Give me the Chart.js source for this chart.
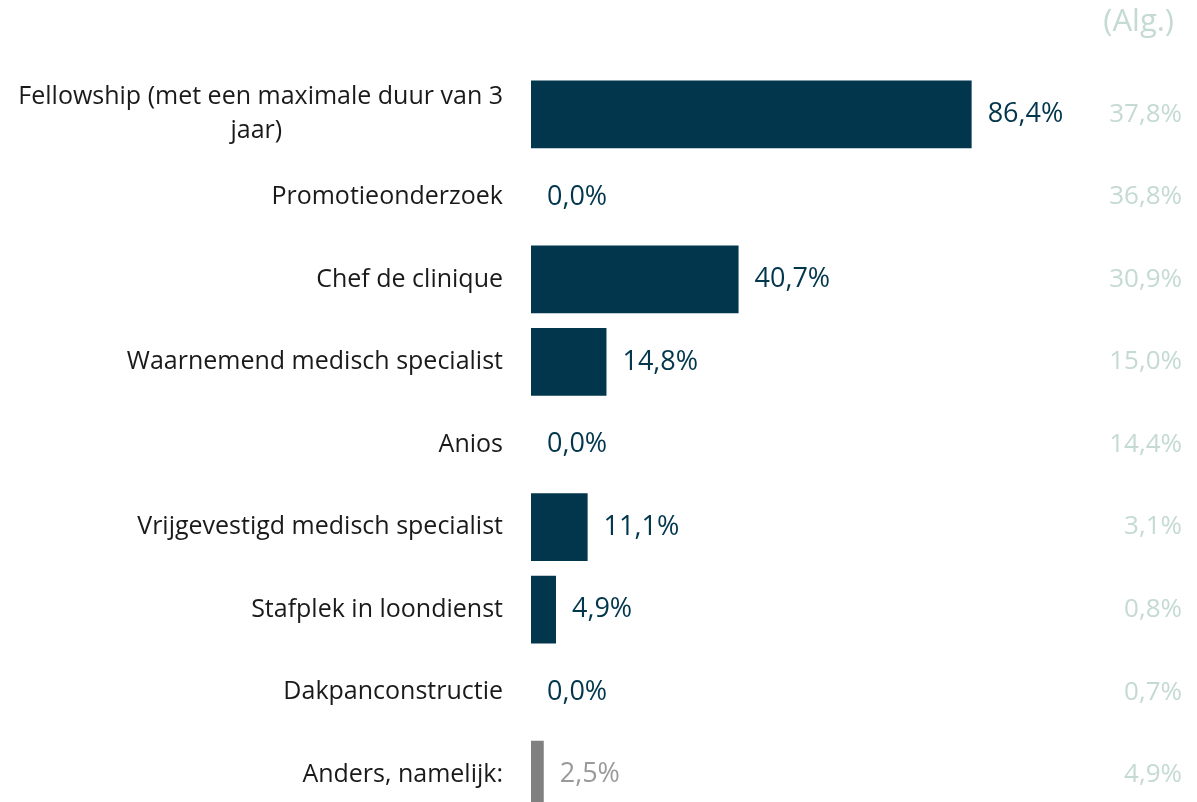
<!DOCTYPE html>
<html>
<head>
<meta charset="utf-8">
<script src="https://cdn.jsdelivr.net/npm/chart.js@4"></script>
<style>
  html, body { margin: 0; padding: 0; background: #fff; overflow: hidden; }
  #wrap { width: 1197px; height: 830px; }
</style>
</head>
<body>
<div id="wrap"><canvas id="barChart" width="1197" height="830"></canvas></div>
<script>
//data
const categories = [
  ["Fellowship (met een maximale duur van 3", "jaar)"],
  "Promotieonderzoek",
  "Chef de clinique",
  "Waarnemend medisch specialist",
  "Anios",
  "Vrijgevestigd medisch specialist",
  "Stafplek in loondienst",
  "Dakpanconstructie",
  "Anders, namelijk:",
];
const values = [86.4, 0, 40.7, 14.8, 0, 11.1, 4.9, 0, 2.5];
const algValues = [37.8, 36.8, 30.9, 15.0, 14.4, 3.1, 0.8, 0.7, 4.9];
const algTitle = "(Alg.)";

//variables
const fontFamily = "'Open Sans', sans-serif";
const fontSize = 25;
const valueFontSize = 27;
const barColor = "#02364d";
const otherColor = "#808080";
const otherTextColor = "#9a9a9a";
const algColor = "#c4dad2";
const lastIdx = categories.length - 1;

const fmt = (v) => v.toFixed(1).replace(".", ",") + "%";

// pad shorter lines of a multi-line label so they sit centred under the longest one
const measureCtx = document.createElement("canvas").getContext("2d");
const centreLines = (label) => {
  if (!Array.isArray(label)) return label;
  measureCtx.font = `${fontSize}px ${fontFamily}`;
  const widths = label.map((l) => measureCtx.measureText(l).width);
  const maxW = Math.max(...widths);
  const spaceW = measureCtx.measureText(" ").width;
  return label.map((l, i) => l + " ".repeat(Math.ceil((maxW - widths[i]) / 2 / spaceW)));
};

const labelsPlugin = {
  id: "valueLabels",
  afterDatasetsDraw(chart) {
    const ctx = chart.ctx;
    const meta = chart.getDatasetMeta(0);
    ctx.save();
    ctx.textBaseline = "middle";
    meta.data.forEach((bar, i) => {
      ctx.font = `${valueFontSize}px ${fontFamily}`;
      ctx.textAlign = "left";
      ctx.fillStyle = i === lastIdx ? otherTextColor : barColor;
      ctx.fillText(fmt(values[i]), bar.x + 16, bar.y);
      ctx.font = `500 ${valueFontSize - 1}px ${fontFamily}`;
      ctx.textAlign = "right";
      ctx.fillStyle = algColor;
      ctx.fillText(fmt(algValues[i]), 1182, bar.y);
    });
    ctx.font = `31px ${fontFamily}`;
    ctx.fillStyle = algColor;
    ctx.fillText(algTitle, 1174, 22);
    ctx.restore();
  },
};

const ctx = document.getElementById("barChart").getContext("2d");

new Chart(ctx, {
  type: "bar",
  data: {
    labels: categories,
    datasets: [
      {
        data: values,
        backgroundColor: values.map((_, i) => (i === lastIdx ? otherColor : barColor)),
        categoryPercentage: 1,
        barPercentage: 0.82,
      },
    ],
  },
  options: {
    indexAxis: "y",
    responsive: false,
    animation: false,
    layout: {
      padding: { top: 73, bottom: 14, left: 0, right: 156 },
    },
    plugins: {
      legend: { display: false },
      tooltip: { enabled: false },
    },
    scales: {
      x: {
        display: false,
        min: 0,
        max: 100,
      },
      y: {
        afterFit(scale) {
          scale.width = 531;
          scale.paddingTop = 0;
          scale.paddingBottom = 0;
        },
        grid: { display: false, drawTicks: false },
        border: { display: false },
        ticks: {
          color: "#1a1a1a",
          padding: 28,
          font: { family: fontFamily, size: fontSize, lineHeight: 1.36 },
          callback(_, index) {
            return centreLines(categories[index]);
          },
        },
      },
    },
  },
  plugins: [labelsPlugin],
});
</script>
</body>
</html>
